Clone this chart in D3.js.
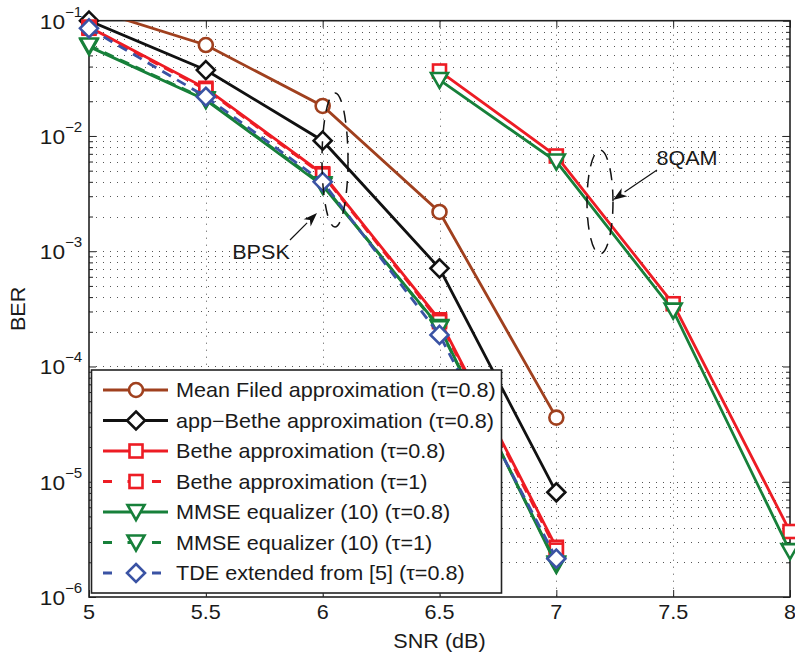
<!DOCTYPE html>
<html>
<head>
<meta charset="utf-8">
<script src="https://cdn.jsdelivr.net/npm/d3@7"></script>
<style>
body { margin: 0; background: #fff; }
text { font-family: "Liberation Sans", Arial, sans-serif; fill: #1a1a1a; }
</style>
</head>
<body>
<script>
// SNR points (dB)
var snrBpsk = [5, 5.5, 6, 6.5, 7];
var snrQam = [6.5, 7, 7.5, 8];

// BPSK curves
var meanField = [0.128, 0.0615, 0.0182, 0.00219, 3.6e-5];
var appBethe = [0.1, 0.0373, 0.0091, 7.1e-4, 8.1e-6];
var bethe08 = [0.088, 0.0259, 0.0047, 2.54e-4, 2.7e-6];
var bethe1 = [0.086, 0.0253, 0.0046, 2.45e-4, 2.55e-6];
var mmse08 = [0.0596, 0.0205, 0.0037, 2.2e-4, 1.9e-6];
var mmse1 = [0.061, 0.0208, 0.0038, 2.15e-4, 1.95e-6];
var tde = [0.0859, 0.0219, 0.0040, 1.88e-4, 2.15e-6];

// 8QAM curves
var betheQam08 = [0.0366, 0.0067, 3.5e-4, 3.7e-6];
var mmseQam08 = [0.0306, 0.0060, 3.05e-4, 2.5e-6];

var legendLabels = [
  "Mean Filed approximation (\u03c4=0.8)",
  "app\u2212Bethe approximation (\u03c4=0.8)",
  "Bethe approximation (\u03c4=0.8)",
  "Bethe approximation (\u03c4=1)",
  "MMSE equalizer (10) (\u03c4=0.8)",
  "MMSE equalizer (10) (\u03c4=1)",
  "TDE extended from [5] (\u03c4=0.8)"
];
var xTicks = [5, 5.5, 6, 6.5, 7, 7.5, 8];
var yExps = [-1, -2, -3, -4, -5, -6];

var brown = "#a0401e", black = "#111", red = "#ed1c24", green = "#17803a", blue = "#3a53a4";
var DASH = "10,7";

var styles = [
  {color: brown, dash: null, mk: "o"},
  {color: black, dash: null, mk: "d"},
  {color: red, dash: null, mk: "s"},
  {color: red, dash: DASH, mk: "s"},
  {color: green, dash: null, mk: "v"},
  {color: green, dash: DASH, mk: "v"},
  {color: blue, dash: DASH, mk: "d"}
];

var curves = [
  {x: snrBpsk, y: meanField, st: 0},
  {x: snrBpsk, y: appBethe, st: 1},
  {x: snrBpsk, y: bethe08, st: 2},
  {x: snrQam, y: betheQam08, st: 2},
  {x: snrBpsk, y: bethe1, st: 3},
  {x: snrBpsk, y: mmse08, st: 4},
  {x: snrQam, y: mmseQam08, st: 4},
  {x: snrBpsk, y: mmse1, st: 5},
  {x: snrBpsk, y: tde, st: 6}
];

var W = 795, H = 655;
var L = 89, R = 790, T = 20.7, B = 597;
var SX = 1.08; // text is drawn a bit wide in the original
var FS = 20;

var x = d3.scaleLinear().domain([5, 8]).range([L, R]);
var y = d3.scaleLog().domain([1e-6, 1e-1]).range([B, T]);

var svg = d3.select("body").append("svg")
  .attr("width", W).attr("height", H);

svg.append("defs").append("clipPath").attr("id", "plotclip")
  .append("rect").attr("x", L).attr("y", T).attr("width", R - L).attr("height", B - T);

function wideText(px, py, str, anchor, size) {
  var t = svg.append("g")
    .attr("transform", "translate(" + px + "," + py + ") scale(" + SX + ",1)")
    .append("text")
    .attr("text-anchor", anchor || "start")
    .style("font-size", (size || FS) + "px")
    .text(str);
  return t;
}

// grid
var minorVals = [];
for (var e = -6; e < -1; e++) {
  for (var k = 2; k <= 9; k++) minorVals.push(k * Math.pow(10, e));
}
var gridVals = minorVals.concat(yExps.map(function(p) { return Math.pow(10, p); }))
  .filter(function(v) { return v > 1e-6 && v < 1e-1; });

var grid = svg.append("g").attr("stroke", "#555").attr("stroke-width", 1)
  .attr("stroke-dasharray", "1,6");
grid.selectAll(".hg").data(gridVals).enter().append("line")
  .attr("x1", L).attr("x2", R)
  .attr("y1", function(d) { return Math.round(y(d)) + 0.5; })
  .attr("y2", function(d) { return Math.round(y(d)) + 0.5; });
grid.selectAll(".vg").data(xTicks.slice(1, -1)).enter().append("line")
  .attr("y1", T).attr("y2", B)
  .attr("x1", function(d) { return Math.round(x(d)) + 0.5; })
  .attr("x2", function(d) { return Math.round(x(d)) + 0.5; });

// axes with inward ticks on all four sides
svg.append("g").attr("transform", "translate(0," + B + ")")
  .call(d3.axisBottom(x).tickValues(xTicks).tickSize(-7).tickFormat(""))
  .call(function(g) { g.select(".domain").remove(); });
svg.append("g").attr("transform", "translate(0," + T + ")")
  .call(d3.axisTop(x).tickValues(xTicks).tickSize(-7).tickFormat(""))
  .call(function(g) { g.select(".domain").remove(); });
svg.append("g").attr("transform", "translate(" + L + ",0)")
  .call(d3.axisLeft(y).tickValues(yExps.map(function(p) { return Math.pow(10, p); })).tickSize(-7).tickFormat(""))
  .call(function(g) { g.select(".domain").remove(); });
svg.append("g").attr("transform", "translate(" + R + ",0)")
  .call(d3.axisRight(y).tickValues(yExps.map(function(p) { return Math.pow(10, p); })).tickSize(-7).tickFormat(""))
  .call(function(g) { g.select(".domain").remove(); });
svg.append("g").attr("transform", "translate(" + L + ",0)")
  .call(d3.axisLeft(y).tickValues(minorVals).tickSize(-4).tickFormat(""))
  .call(function(g) { g.select(".domain").remove(); });
svg.append("g").attr("transform", "translate(" + R + ",0)")
  .call(d3.axisRight(y).tickValues(minorVals).tickSize(-4).tickFormat(""))
  .call(function(g) { g.select(".domain").remove(); });
svg.selectAll(".tick line").attr("stroke", "#222");

svg.append("rect").attr("x", L).attr("y", T).attr("width", R - L).attr("height", B - T)
  .attr("fill", "none").attr("stroke", "#222").attr("stroke-width", 1.6);

// tick labels
xTicks.forEach(function(v) {
  wideText(x(v), 619, String(v), "middle");
});
yExps.forEach(function(p) {
  var t = wideText(65, y(Math.pow(10, p)) + 8, "10", "end", 21);
  var g = d3.select(t.node().parentNode);
  g.append("text").attr("x", 0).attr("y", -12)
    .style("font-size", "14px").text("\u2212" + (-p));
});

wideText(x(6.5), 648, "SNR (dB)", "middle");
svg.append("text")
  .attr("transform", "translate(25," + ((T + B) / 2) + ") rotate(-90) scale(" + SX + ",1)")
  .attr("text-anchor", "middle").style("font-size", FS + "px").text("BER");

// markers
function marker(sel, mk, color) {
  var m;
  if (mk === "o") m = sel.append("circle").attr("r", 7);
  else if (mk === "s") m = sel.append("rect").attr("x", -6.5).attr("y", -6.5).attr("width", 13).attr("height", 13);
  else if (mk === "d") m = sel.append("path").attr("d", "M0,-9L9,0L0,9L-9,0Z");
  else m = sel.append("path").attr("d", "M-8.5,-7L8.5,-7L0,8Z");
  m.attr("fill", "#fff").attr("stroke", color).attr("stroke-width", 2.6);
}

var line = d3.line()
  .x(function(d) { return x(d[0]); })
  .y(function(d) { return y(d[1]); });

curves.forEach(function(c) {
  var st = styles[c.st];
  var pts = c.x.map(function(v, i) { return [v, c.y[i]]; });
  svg.append("path").datum(pts)
    .attr("clip-path", "url(#plotclip)")
    .attr("d", line)
    .attr("fill", "none").attr("stroke", st.color).attr("stroke-width", 2.8)
    .attr("stroke-dasharray", st.dash);
  pts.filter(function(p) { return p[1] <= 1e-1 && p[1] >= 1e-6; }).forEach(function(p) {
    var g = svg.append("g").attr("transform", "translate(" + x(p[0]) + "," + y(p[1]) + ")");
    marker(g, st.mk, st.color);
  });
});

// annotations
function arrow(x1, y1, x2, y2) {
  var a = Math.atan2(y2 - y1, x2 - x1);
  var len = 14, wd = 5;
  var bx = x2 - len * Math.cos(a), by = y2 - len * Math.sin(a);
  svg.append("line").attr("x1", x1).attr("y1", y1).attr("x2", bx).attr("y2", by)
    .attr("stroke", "#111").attr("stroke-width", 1.2);
  svg.append("path")
    .attr("d", "M" + x2 + "," + y2 +
      "L" + (bx + wd * Math.sin(a)) + "," + (by - wd * Math.cos(a)) +
      "L" + (bx + 4 * Math.cos(a)) + "," + (by + 4 * Math.sin(a)) +
      "L" + (bx - wd * Math.sin(a)) + "," + (by + wd * Math.cos(a)) + "Z")
    .attr("fill", "#111");
}

svg.append("ellipse").attr("cx", 335).attr("cy", 160).attr("rx", 13).attr("ry", 67)
  .attr("fill", "none").attr("stroke", "#111").attr("stroke-width", 1.5).attr("stroke-dasharray", "12,9");
svg.append("ellipse").attr("cx", 600).attr("cy", 202).attr("rx", 13).attr("ry", 52)
  .attr("fill", "none").attr("stroke", "#111").attr("stroke-width", 1.5).attr("stroke-dasharray", "12,9");
arrow(290, 240, 317, 213);
arrow(657, 170, 613, 200);
wideText(261, 259, "BPSK", "middle");
wideText(687, 165, "8QAM", "middle");

// legend
var lg = svg.append("g");
lg.append("rect").attr("x", 91.5).attr("y", 370).attr("width", 410).attr("height", 223)
  .attr("fill", "#fff").attr("stroke", "#222").attr("stroke-width", 1.6);
legendLabels.forEach(function(lab, i) {
  var st = styles[i];
  var ly = 390 + i * 30.5;
  lg.append("line").attr("x1", 103).attr("x2", 168).attr("y1", ly).attr("y2", ly)
    .attr("stroke", st.color).attr("stroke-width", 2.8)
    .attr("stroke-dasharray", st.dash ? "9,15.5" : null);
  var g = lg.append("g").attr("transform", "translate(136," + ly + ")");
  marker(g, st.mk, st.color);
  wideText(176, ly + 7, lab, "start");
});
</script>
</body>
</html>
